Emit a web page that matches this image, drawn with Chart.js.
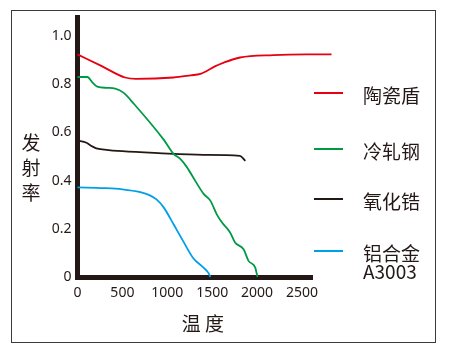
<!DOCTYPE html>
<html>
<head>
<meta charset="utf-8">
<script src="https://cdn.jsdelivr.net/npm/chart.js@4.4.0/dist/chart.umd.min.js"></script>
<style>
    html, body { margin: 0; padding: 0; background: #fff; }
    body {
        width: 450px; height: 353px; position: relative; overflow: hidden;
        font-family: "Noto Sans CJK SC", "Noto Sans", sans-serif; color: #231815;
    }
    .frame { position: absolute; left: 11px; top: 10px; width: 423px; height: 331px; border: 1px solid #3a3a3a; }
    #chartWrap { position: absolute; left: 0; top: 0; width: 450px; height: 353px; }
    .ytitle {
        position: absolute; left: 21px; top: 129px; width: 20px;
        font-size: 19px; line-height: 25px; text-align: center;
    }
    .xtitle {
        position: absolute; left: 160px; top: 311px; width: 86px;
        font-size: 19px; line-height: 24px; text-align: center; white-space: pre;
    }
    .legend-item { position: absolute; left: 314px; width: 120px; height: 2px; }
    .legend-item .swatch { position: absolute; left: 0; top: -1px; width: 29px; height: 2px; }
    .legend-item .text {
        position: absolute; left: 49px; top: -7px;
        font-size: 19px; line-height: 18px; white-space: pre;
    }
</style>
</head>
<body>
<div class="frame"></div>
<div id="chartWrap"><canvas id="chart" width="450" height="353"></canvas></div>
<div class="ytitle">发<br>射<br>率</div>
<div class="xtitle">温 度</div>
<div id="legend"></div>

<script>
// ── Data ─────────────────────────────────────────────────────
const seriesNames = ['陶瓷盾', '冷轧钢', '氧化锆', '铝合金\nA3003'];

const ceramicT  = [0, 265, 530, 650, 1070, 1260, 1370, 1440, 1530, 1630, 1810, 2180, 2550, 2830];
const ceramicE  = [0.924, 0.876, 0.828, 0.822, 0.828, 0.837, 0.843, 0.855, 0.874, 0.890, 0.911, 0.921, 0.924, 0.924];

const steelT    = [0, 110, 165, 220, 330, 420, 515, 625, 960, 1070, 1145, 1220, 1310, 1405, 1480, 1550, 1610, 1700, 1755, 1850, 1905, 1980, 2005];
const steelE    = [0.830, 0.830, 0.808, 0.790, 0.785, 0.782, 0.764, 0.720, 0.570, 0.511, 0.490, 0.455, 0.400, 0.345, 0.317, 0.261, 0.226, 0.185, 0.143, 0.115, 0.067, 0.039, 0.000];

const zirconiaT = [0, 100, 160, 210, 300, 500, 900, 1400, 1810, 1870];
const zirconiaE = [0.566, 0.557, 0.543, 0.534, 0.529, 0.522, 0.514, 0.507, 0.503, 0.482];

const aluT      = [0, 300, 500, 700, 800, 880, 960, 1070, 1180, 1290, 1400, 1460, 1480];
const aluE      = [0.372, 0.369, 0.364, 0.352, 0.340, 0.322, 0.289, 0.219, 0.147, 0.078, 0.040, 0.016, 0.000];

const xTicks = [0, 500, 1000, 1500, 2000, 2500];
const yTicks = [0, 0.2, 0.4, 0.6, 0.8, 1.0];

// ── Styles ───────────────────────────────────────────────────
const COLORS   = ['#e60012', '#009944', '#231815', '#00a0e9'];
const INK      = '#231815';
const TICKFONT = { family: '"Noto Sans", sans-serif', size: 14 };

function toPoints(xs, ys) {
    return xs.map((x, i) => ({ x: x, y: ys[i] }));
}

const series = [
    toPoints(ceramicT, ceramicE),
    toPoints(steelT, steelE),
    toPoints(zirconiaT, zirconiaE),
    toPoints(aluT, aluE)
];

const chart = new Chart(document.getElementById('chart'), {
    type: 'line',
    data: {
        datasets: series.map((pts, i) => ({
            label: seriesNames[i],
            data: pts,
            borderColor: COLORS[i],
            borderWidth: 1.8,
            pointRadius: 0,
            cubicInterpolationMode: 'monotone',
            clip: false
        }))
    },
    options: {
        responsive: false,
        animation: false,
        layout: { padding: { left: 0, top: 17.5, right: 137.3, bottom: 0 } },
        plugins: { legend: { display: false }, tooltip: { enabled: false } },
        scales: {
            x: {
                type: 'linear', min: 0, max: 2620,
                afterBuildTicks: s => { s.ticks = xTicks.map(v => ({ value: v })); },
                afterFit: s => { s.height = 76; },
                grid: { display: false, drawTicks: false },
                border: { display: true, color: INK, width: 5 },
                ticks: {
                    font: TICKFONT, color: INK, padding: 8, maxRotation: 0, autoSkip: false,
                    callback: v => String(v)
                }
            },
            y: {
                type: 'linear', min: 0, max: 1.077,
                afterBuildTicks: s => { s.ticks = yTicks.map(v => ({ value: v })); },
                afterFit: s => { s.width = 77.5; },
                grid: { display: false, drawTicks: false },
                border: { display: true, color: INK, width: 5 },
                ticks: {
                    font: TICKFONT, color: INK, padding: 6,
                    callback: v => v === 0 ? '0' : v.toFixed(1)
                }
            }
        }
    }
});

// ── Legend (html, right side) ────────────────────────────────
const legendTops = [93, 149, 199, 251];
const legend = document.getElementById('legend');
chart.data.datasets.forEach((ds, i) => {
    legend.insertAdjacentHTML('beforeend', `
        <div class="legend-item" style="top:${legendTops[i]}px;">
            <div class="swatch" style="background:${ds.borderColor};"></div>
            <div class="text">${ds.label}</div>
        </div>`);
});
</script>
</body>
</html>
